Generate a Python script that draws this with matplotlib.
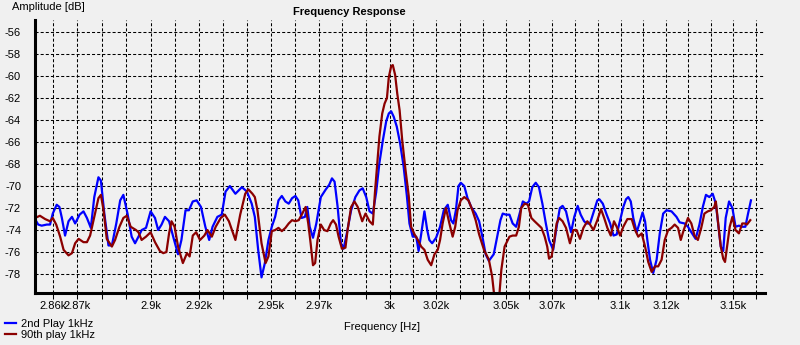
"""Frequency response of two 1 kHz plays, zoomed around 3 kHz."""

import matplotlib

matplotlib.use("Agg")

import matplotlib.pyplot as plt
import numpy as np
from matplotlib.ticker import FixedFormatter, FixedLocator, NullLocator

# (frequency Hz, amplitude dB)
blue_points = [
    (2852.8, -73.0), (2854.1, -73.5), (2855.5, -73.6), (2857.6, -73.5), (2858.9, -73.5),
    (2860.0, -72.5), (2861.6, -71.7), (2862.7, -71.9), (2863.7, -72.9), (2865.0, -74.5),
    (2866.4, -73.2), (2867.8, -72.8), (2869.1, -73.4), (2870.9, -72.6), (2872.5, -72.3),
    (2873.9, -72.9), (2875.5, -73.8), (2876.9, -71.0), (2878.6, -69.2), (2879.6, -69.5),
    (2881.0, -72.5), (2882.7, -75.4), (2884.1, -75.4), (2885.9, -73.4), (2887.5, -71.3),
    (2888.8, -70.8), (2890.5, -72.5), (2892.2, -74.6), (2893.6, -75.2), (2895.0, -74.6),
    (2896.3, -74.0), (2898.1, -73.8), (2900.0, -72.3), (2901.8, -72.9), (2903.1, -74.0),
    (2904.5, -73.5), (2905.9, -72.8), (2907.6, -73.2), (2909.3, -74.6), (2911.3, -76.2),
    (2912.7, -74.9), (2914.4, -72.2), (2915.8, -72.2), (2917.4, -71.4), (2919.0, -71.3),
    (2920.8, -71.9), (2922.6, -73.7), (2924.2, -74.9), (2925.6, -73.7), (2927.6, -72.8),
    (2929.4, -72.6), (2931.0, -70.5), (2932.8, -70.0), (2935.1, -70.7), (2937.8, -70.1),
    (2939.9, -70.5), (2941.9, -71.6), (2943.2, -72.8), (2944.6, -75.8), (2946.0, -78.3),
    (2947.4, -77.0), (2948.9, -74.9), (2950.3, -73.7), (2951.7, -72.8), (2953.1, -71.3),
    (2954.5, -70.9), (2956.0, -71.4), (2957.4, -71.6), (2958.8, -71.1), (2960.2, -70.9),
    (2961.4, -71.3), (2962.8, -72.9), (2964.2, -72.8), (2965.2, -71.9), (2966.2, -73.7),
    (2967.6, -74.7), (2969.0, -73.4), (2970.9, -71.0), (2973.0, -70.3), (2974.4, -69.9),
    (2975.6, -69.3), (2976.7, -69.6), (2978.0, -71.9), (2979.4, -75.2), (2980.5, -75.7),
    (2981.8, -74.4), (2983.7, -72.2), (2985.5, -71.0), (2987.2, -70.4), (2988.6, -70.2),
    (2990.1, -71.0), (2991.5, -72.3), (2992.9, -72.5), (2994.3, -70.6), (2995.7, -67.9),
    (2997.2, -65.8), (2998.6, -64.1), (2999.7, -63.4), (3000.7, -63.2), (3001.8, -63.7),
    (3003.1, -64.6), (3004.5, -66.1), (3006.0, -68.2), (3007.4, -70.9), (3008.5, -73.4),
    (3009.9, -74.6), (3011.4, -74.6), (3012.4, -75.9), (3013.5, -74.4), (3014.9, -72.3),
    (3016.1, -74.0), (3017.0, -74.9), (3018.2, -75.2), (3019.9, -74.7), (3021.6, -73.7),
    (3023.2, -72.2), (3024.9, -71.7), (3026.3, -73.1), (3027.3, -73.4), (3028.4, -72.2),
    (3029.5, -70.0), (3030.5, -69.7), (3032.0, -70.0), (3033.4, -71.1), (3035.2, -72.0),
    (3036.9, -72.5), (3038.4, -73.2), (3039.8, -74.6), (3041.2, -76.2), (3042.6, -76.8),
    (3044.7, -76.2), (3046.2, -74.6), (3047.6, -73.1), (3048.6, -72.5), (3050.0, -72.6),
    (3051.5, -72.6), (3052.9, -73.4), (3054.4, -73.7), (3055.9, -72.5), (3057.3, -71.4),
    (3058.8, -71.6), (3060.0, -71.4), (3061.4, -70.1), (3062.9, -69.7), (3064.3, -70.1),
    (3065.8, -71.6), (3067.3, -73.4), (3068.7, -74.9), (3070.5, -75.8), (3072.0, -73.7),
    (3073.4, -72.0), (3074.6, -71.8), (3076.1, -72.3), (3077.1, -73.2), (3078.3, -74.2),
    (3079.7, -72.8), (3081.2, -71.8), (3082.5, -72.6), (3084.0, -73.2), (3085.1, -73.4),
    (3086.6, -73.4), (3088.4, -72.2), (3089.8, -71.3), (3090.7, -71.2), (3092.2, -71.6),
    (3093.9, -72.6), (3095.4, -73.4), (3096.9, -74.5), (3098.3, -74.4), (3099.8, -73.1),
    (3101.2, -71.9), (3102.4, -71.2), (3103.4, -71.0), (3104.5, -71.4), (3105.6, -72.9),
    (3107.1, -74.2), (3108.3, -73.4), (3109.7, -72.4), (3110.8, -73.2), (3111.8, -74.9),
    (3113.0, -76.7), (3114.4, -77.9), (3115.9, -76.7), (3117.3, -74.3), (3118.8, -72.5),
    (3120.3, -72.2), (3122.5, -72.3), (3124.7, -72.8), (3126.1, -73.3), (3128.3, -73.4),
    (3129.8, -73.7), (3131.3, -74.2), (3133.2, -74.8), (3134.9, -73.5), (3136.4, -71.9),
    (3137.8, -70.8), (3139.3, -71.0), (3140.8, -70.7), (3142.2, -71.6), (3143.4, -73.7),
    (3144.4, -75.5), (3145.5, -75.9), (3146.6, -72.9), (3148.1, -71.4), (3149.6, -72.0),
    (3151.0, -73.7), (3152.5, -73.6), (3154.0, -73.7), (3155.4, -73.7), (3156.6, -72.5),
    (3157.9, -71.3),
]

red_points = [
    (2852.8, -72.9), (2854.8, -72.7), (2856.9, -73.0), (2858.9, -73.2), (2860.0, -72.9),
    (2861.4, -73.5), (2863.0, -74.6), (2864.4, -75.8), (2866.4, -76.3), (2867.8, -76.1),
    (2869.1, -75.2), (2870.5, -74.8), (2872.5, -75.1), (2873.9, -75.1), (2875.2, -74.5),
    (2876.9, -72.8), (2878.6, -71.1), (2879.6, -70.8), (2880.7, -72.2), (2882.0, -74.8),
    (2884.1, -75.5), (2885.4, -74.9), (2887.2, -73.7), (2888.8, -72.9), (2890.2, -72.7),
    (2891.8, -73.7), (2894.0, -74.0), (2895.0, -74.2), (2896.3, -74.9), (2898.1, -74.6),
    (2900.0, -74.2), (2901.8, -75.1), (2903.8, -75.9), (2905.2, -76.1), (2906.5, -76.0),
    (2907.6, -74.3), (2908.6, -73.2), (2909.9, -73.7), (2911.3, -75.5), (2913.3, -77.0),
    (2915.0, -76.1), (2916.1, -76.4), (2917.4, -74.5), (2918.8, -74.2), (2920.4, -74.9),
    (2922.2, -74.5), (2923.5, -74.0), (2925.3, -74.6), (2926.9, -73.7), (2929.0, -72.9),
    (2930.7, -72.6), (2932.4, -73.2), (2935.1, -74.9), (2937.1, -72.6), (2939.2, -70.7),
    (2940.5, -70.3), (2942.2, -70.7), (2943.2, -71.0), (2944.3, -72.2), (2946.0, -75.2),
    (2947.7, -77.0), (2948.9, -76.4), (2950.3, -74.1), (2951.7, -74.0), (2953.1, -73.8),
    (2954.5, -74.1), (2956.0, -73.8), (2957.4, -73.4), (2958.8, -73.1), (2960.2, -73.2),
    (2961.6, -73.1), (2963.1, -72.5), (2964.5, -71.9), (2965.6, -73.4), (2966.6, -75.2),
    (2967.6, -77.2), (2968.5, -77.0), (2969.5, -74.9), (2970.9, -73.5), (2972.3, -74.0),
    (2973.7, -74.1), (2975.1, -73.4), (2976.1, -73.1), (2977.3, -73.5), (2978.4, -74.6),
    (2979.8, -75.7), (2981.3, -75.6), (2982.2, -74.0), (2983.7, -71.9), (2985.1, -71.4),
    (2986.5, -71.9), (2988.4, -73.2), (2989.8, -72.5), (2991.5, -73.2), (2992.9, -73.5),
    (2993.8, -70.6), (2994.6, -68.5), (2995.7, -65.5), (2996.9, -63.4), (2997.9, -62.5),
    (2998.9, -62.0), (2999.7, -60.1), (3000.7, -59.1), (3001.4, -59.0), (3002.4, -59.9),
    (3003.3, -61.6), (3004.3, -63.1), (3005.4, -65.8), (3006.8, -68.5), (3008.2, -70.9),
    (3009.2, -73.7), (3010.7, -74.4), (3012.1, -74.9), (3013.5, -75.5), (3014.9, -75.8),
    (3016.3, -76.7), (3017.8, -77.2), (3019.2, -76.2), (3020.6, -75.8), (3021.6, -74.9),
    (3022.7, -73.4), (3024.1, -72.0), (3025.6, -73.4), (3027.0, -74.6), (3028.1, -73.7),
    (3029.1, -72.2), (3030.5, -71.3), (3032.0, -71.0), (3033.8, -71.3), (3035.5, -72.2),
    (3036.9, -73.1), (3038.4, -74.4), (3040.5, -75.8), (3042.6, -76.7), (3044.0, -78.2),
    (3045.2, -80.5), (3046.9, -80.5), (3048.0, -77.6), (3049.4, -75.5), (3051.5, -74.6),
    (3052.9, -74.5), (3054.4, -74.5), (3055.6, -73.7), (3056.6, -72.0), (3058.1, -71.6),
    (3059.5, -71.7), (3061.0, -72.9), (3062.4, -73.2), (3063.9, -73.5), (3065.4, -73.8),
    (3066.8, -74.6), (3067.9, -75.5), (3068.7, -76.6), (3069.8, -76.4), (3070.8, -75.2),
    (3072.0, -73.4), (3073.1, -72.9), (3074.6, -73.2), (3076.1, -73.8), (3077.8, -75.2),
    (3079.3, -74.0), (3080.7, -74.0), (3082.2, -74.8), (3083.7, -73.8), (3085.4, -73.2),
    (3086.6, -73.5), (3088.1, -74.0), (3089.8, -73.1), (3091.4, -72.1), (3092.8, -72.9),
    (3094.2, -73.8), (3095.7, -74.5), (3097.1, -73.2), (3098.3, -73.7), (3099.8, -74.5),
    (3101.2, -73.7), (3103.0, -73.0), (3104.9, -73.0), (3106.4, -74.0), (3107.8, -74.6),
    (3109.3, -74.3), (3110.8, -75.5), (3112.2, -76.9), (3113.7, -77.8), (3115.2, -77.3),
    (3116.6, -77.3), (3118.1, -76.7), (3119.5, -74.9), (3121.0, -74.0), (3122.5, -73.8),
    (3123.9, -73.5), (3125.4, -73.8), (3126.6, -74.9), (3127.9, -74.0), (3129.8, -72.9),
    (3131.3, -73.4), (3132.7, -74.5), (3134.2, -74.9), (3135.7, -73.8), (3137.1, -72.5),
    (3138.6, -72.3), (3140.0, -72.2), (3141.5, -71.9), (3142.2, -71.4), (3143.4, -73.7),
    (3144.4, -75.5), (3145.5, -76.6), (3146.3, -76.9), (3147.4, -75.2), (3148.4, -73.7),
    (3149.6, -72.8), (3151.0, -74.0), (3152.5, -74.3), (3154.0, -73.4), (3155.1, -73.4),
    (3156.1, -73.5), (3157.6, -73.1),
]

series_labels = ["2nd Play 1kHz", "90th play 1kHz"]
series_colors = ["#0000ff", "#8b0000"]

grid_hz = np.arange(2860, 3161, 10)
tick_labels = [
    "2.86k", "2.87k", "", "", "2.9k", "", "2.92k", "", "", "2.95k", "",
    "2.97k", "", "", "3k", "", "3.02k", "", "", "3.05k", "", "3.07k", "",
    "", "3.1k", "", "3.12k", "", "", "3.15k", "",
]
y_ticks = np.arange(-78, -55, 2)

BG = "#f0f0f0"
plt.rcParams["font.family"] = ["Liberation Sans", "DejaVu Sans"]
plt.rcParams["font.size"] = 8
plt.rcParams["lines.scale_dashes"] = False

fig = plt.figure(figsize=(8, 3.45), dpi=100, facecolor=BG)
ax = fig.add_axes([35 / 800, 1 - 293.3 / 345, 730 / 800, 273.3 / 345])
ax.set_facecolor(BG)

lines = []
for points, label, color in zip(
    [blue_points, red_points], series_labels, series_colors
):
    hz, db = np.array(points).T
    (line,) = ax.plot(hz, db, color=color, lw=1.6, label=label)
    lines.append(line)

ax.set_xscale("log")
ax.set_xlim(2852.8, 3164.2)
ax.set_ylim(-79.75, -54.9)
ax.xaxis.set_major_locator(FixedLocator(grid_hz))
ax.xaxis.set_major_formatter(FixedFormatter(tick_labels))
ax.xaxis.set_minor_locator(NullLocator())
ax.set_yticks(y_ticks)
ax.set_yticklabels([f"{v:d}" for v in y_ticks])

ax.set_axisbelow(True)
ax.grid(True, color="black", linestyle=(0, (2.2, 1.5)), linewidth=0.75)

for side in ("top", "right"):
    ax.spines[side].set_visible(False)
for side in ("left", "bottom"):
    ax.spines[side].set_linewidth(2.2)

ax.tick_params(axis="x", length=4.3, width=0.75, pad=1.5, labelsize=8)
ax.tick_params(axis="y", length=0, pad=10, labelsize=8)

fig.text(349 / 800, 1 - 12 / 345, "Frequency Response", ha="center",
         va="center", fontsize=8, fontweight="bold")
fig.text(12 / 800, 1 - 7.5 / 345, "Amplitude [dB]", ha="left", va="center",
         fontsize=8)
fig.text(382 / 800, 1 - 327 / 345, "Frequency [Hz]", ha="center",
         va="center", fontsize=8)

fig.legend(
    handles=lines,
    loc="upper left",
    bbox_to_anchor=(5 / 800, 1 - 319 / 345),
    frameon=False,
    fontsize=8,
    handlelength=1.0,
    handletextpad=0.4,
    labelspacing=0.1,
    borderpad=0,
    borderaxespad=0,
)

fig.savefig("out.png", dpi=100, facecolor=BG)
